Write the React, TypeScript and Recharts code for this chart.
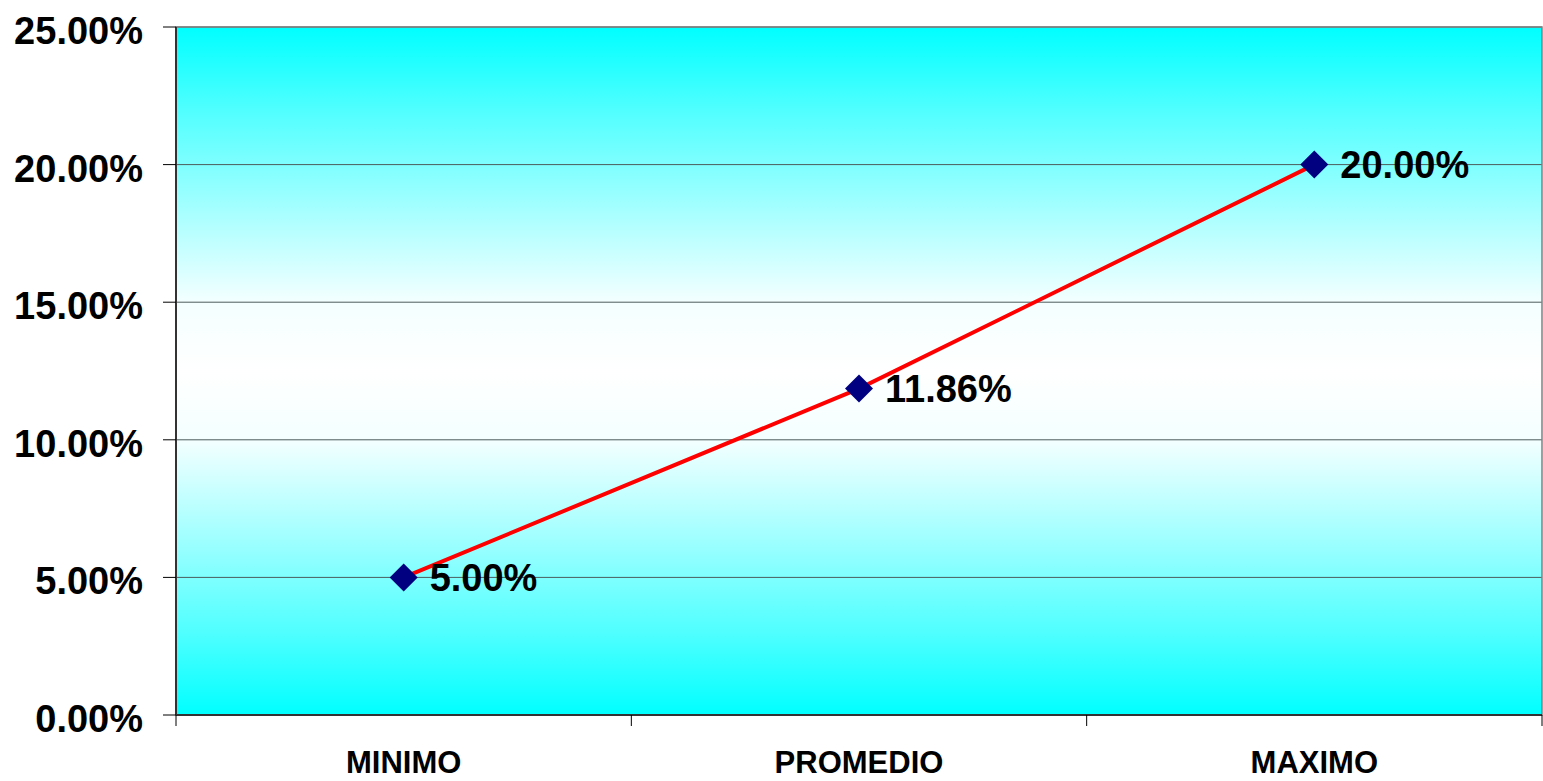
import {
  LineChart,
  Line,
  XAxis,
  YAxis,
  CartesianGrid,
  ReferenceArea,
  LabelList,
} from "recharts"

const categories = ["MINIMO", "PROMEDIO", "MAXIMO"]
const values = [5.0, 11.86, 20.0]
const yTicks = [0, 5, 10, 15, 20, 25]
// category boundaries (integers) and centres (halves) on the numeric x axis
const xTicks = [0, 0.5, 1, 1.5, 2, 2.5, 3]

const data = categories.map((name, i) => ({ pos: i + 0.5, name, value: values[i] }))

const font = "'Liberation Sans', Arial, sans-serif"

function XTick(props: any) {
  const { x, y, payload } = props
  const v = payload.value as number
  if (Number.isInteger(v)) {
    return <line x1={x} x2={x} y1={y - 11} y2={y} stroke="#000" strokeWidth={1} />
  }
  return (
    <text
      x={x}
      y={y}
      dy={47}
      textAnchor="middle"
      fontFamily={font}
      fontWeight="bold"
      fontSize={31}
      fill="#000"
    >
      {categories[Math.floor(v)]}
    </text>
  )
}

function YTick(props: any) {
  const { x, y, payload } = props
  return (
    <text
      x={x}
      y={y}
      dy={17}
      textAnchor="end"
      fontFamily={font}
      fontWeight="bold"
      fontSize={38}
      fill="#000"
    >
      {`${(payload.value as number).toFixed(2)}%`}
    </text>
  )
}

function Diamond(props: any) {
  const { cx, cy, index } = props
  if (cx == null || cy == null) return null
  const r = 14
  return (
    <polygon
      key={`d-${index}`}
      points={`${cx},${cy - r} ${cx + r},${cy} ${cx},${cy + r} ${cx - r},${cy}`}
      fill="#000080"
    />
  )
}

export default function App() {
  return (
    <div style={{ position: "absolute", left: 0, top: 0, background: "#fff" }}>
      <LineChart
        width={1543}
        height={781}
        data={data}
        margin={{ top: 27, right: 1, left: 0, bottom: 0 }}
      >
        <defs>
          <linearGradient id="plotBg" x1="0" y1="0" x2="0" y2="1">
            <stop offset="0%" stopColor="#00ffff" />
            <stop offset="12%" stopColor="#50ffff" />
            <stop offset="40%" stopColor="#f4ffff" />
            <stop offset="50%" stopColor="#ffffff" />
            <stop offset="60%" stopColor="#f4ffff" />
            <stop offset="88%" stopColor="#50ffff" />
            <stop offset="100%" stopColor="#00ffff" />
          </linearGradient>
        </defs>
        <CartesianGrid
          vertical={false}
          stroke="#4d5c5c"
          strokeWidth={1}
          fill="url(#plotBg)"
          fillOpacity={1}
        />
        <ReferenceArea
          x1={0}
          x2={3}
          y1={0}
          y2={25}
          fill="none"
          stroke="#808080"
          strokeWidth={1.5}
        />
        <XAxis
          dataKey="pos"
          type="number"
          domain={[0, 3]}
          ticks={xTicks}
          interval={0}
          height={66}
          tickSize={11}
          tickMargin={0}
          tickLine={false}
          tick={<XTick />}
          axisLine={{ stroke: "#333", strokeWidth: 2 }}
        />
        <YAxis
          width={176}
          domain={[0, 25]}
          ticks={yTicks}
          interval={0}
          tickSize={13}
          tickMargin={20}
          tick={<YTick />}
          tickLine={{ stroke: "#000" }}
          axisLine={{ stroke: "#333", strokeWidth: 2 }}
        />
        <Line
          type="linear"
          dataKey="value"
          stroke="#ff0000"
          strokeWidth={4}
          dot={<Diamond />}
          activeDot={false}
          isAnimationActive={false}
        >
          <LabelList
            dataKey="value"
            position="right"
            offset={26}
            formatter={(v: number) => `${v.toFixed(2)}%`}
            fontFamily={font}
            fontWeight="bold"
            fontSize={38}
            fill="#000"
          />
        </Line>
      </LineChart>
    </div>
  )
}
